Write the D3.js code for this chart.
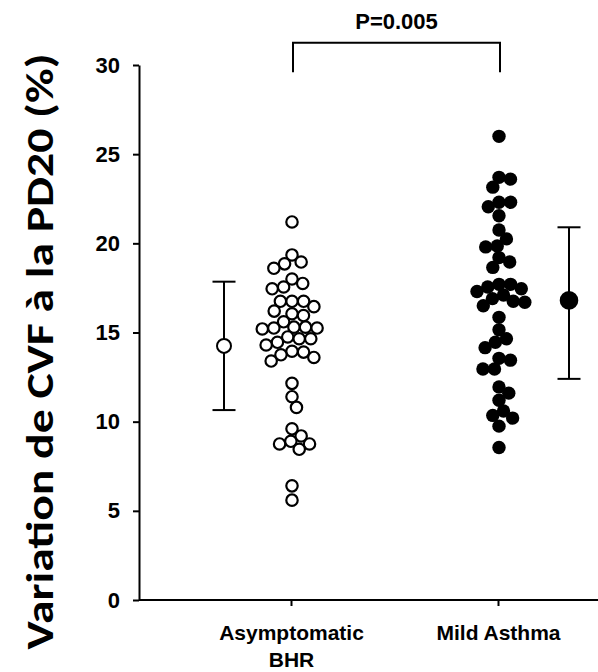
<!DOCTYPE html>
<html>
<head>
<meta charset="utf-8">
<script src="https://cdn.jsdelivr.net/npm/d3@7"></script>
<style>
  body { margin: 0; background: #fff; }
  svg { display: block; }
</style>
</head>
<body>
<div id="chart"></div>
<script>
// values
const groups = ["Asymptomatic BHR", "Mild Asthma"]
const groupLines = [["Asymptomatic", "BHR"], ["Mild Asthma"]]
const asymValues = [21.2, 19.35, 18.85, 18.95, 18.6, 18.0, 17.75, 17.55, 17.45,
    16.75, 16.75, 16.75, 16.45, 16.2, 15.95, 16.05, 15.6, 15.25, 15.25, 15.3,
    15.3, 15.2, 14.65, 14.65, 14.75, 14.45, 14.3, 13.9, 13.75, 13.95, 13.6,
    13.4, 12.15, 11.4, 10.8, 9.6, 9.2, 8.9, 8.75, 8.75, 8.45, 6.4, 5.6]
const mildValues = [26.0, 23.6, 23.7, 23.15, 22.3, 22.3, 22.05, 21.55, 20.75,
    20.25, 19.8, 19.85, 19.2, 18.95, 18.65, 17.7, 17.7, 17.55, 17.45, 17.3,
    17.1, 16.9, 16.7, 16.5, 16.75, 15.85, 15.15, 14.65, 14.45, 14.15, 13.55,
    13.45, 12.95, 12.95, 11.95, 11.6, 11.2, 10.2, 10.35, 10.6, 9.75, 8.55]
const groupMean = [14.25, 16.8]
const groupLow = [10.65, 12.4]
const groupHigh = [17.85, 20.9]
const yTicks = [0, 5, 10, 15, 20, 25, 30]
const pLabel = "P=0.005"
const yTitle = "Variation de CVF à la PD20 (%)"

const W = 598, H = 672
const margin = {top: 65, right: 0, bottom: 72, left: 139}
const axisFont = "'Liberation Sans', Arial, sans-serif"

const svg = d3.select("#chart").append("svg")
    .attr("width", W)
    .attr("height", H)

const y = d3.scaleLinear()
    .domain([0, 30])
    .range([H - margin.bottom, margin.top])

const x = d3.scalePoint()
    .domain(groups)
    .range([291, 498])

// y axis
const yAxis = svg.append("g")
    .attr("transform", "translate(" + margin.left + ",0)")
    .call(d3.axisLeft(y)
        .tickValues(yTicks)
        .tickSizeInner(6)
        .tickSizeOuter(0)
        .tickPadding(13))
yAxis.select(".domain").attr("stroke-width", 2)
yAxis.selectAll(".tick line").attr("stroke-width", 2)
yAxis.selectAll(".tick text")
    .style("font-family", axisFont)
    .style("font-weight", "bold")
    .style("font-size", "22px")
    .attr("fill", "#000")

// x axis
svg.append("line")
    .attr("x1", margin.left)
    .attr("x2", W - margin.right)
    .attr("y1", y(0))
    .attr("y2", y(0))
    .attr("stroke", "#000")
    .attr("stroke-width", 2)

const xAxis = svg.append("g")
    .attr("transform", "translate(0," + y(0) + ")")
    .call(d3.axisBottom(x).tickSizeInner(6).tickSizeOuter(0).tickPadding(10))
xAxis.select(".domain").remove()
xAxis.selectAll(".tick line").attr("stroke-width", 2)
xAxis.selectAll(".tick text").remove()
xAxis.selectAll(".tick").each(function (d, i) {
    const t = d3.select(this).append("text")
        .attr("fill", "#000")
        .attr("text-anchor", "middle")
        .style("font-family", axisFont)
        .style("font-weight", "bold")
        .style("font-size", "21px")
    groupLines[i].forEach((line, k) => {
        t.append("tspan").attr("x", 0).attr("y", 40 + k * 27).text(line)
    })
})

// y title
svg.append("text")
    .attr("transform", "translate(53," + (y(15) + 19) + ") rotate(-90)")
    .attr("text-anchor", "middle")
    .attr("textLength", 596)
    .attr("lengthAdjust", "spacingAndGlyphs")
    .style("font-family", "Carlito, Calibri, Lato, sans-serif")
    .style("font-weight", "bold")
    .style("font-size", "39px")
    .text(yTitle)

// simple beeswarm: each point takes the free x offset closest to the group centre
function swarm(values, cx, d) {
    const order = values.map((v, i) => i).sort((a, b) => values[b] - values[a])
    const placed = []
    order.forEach(i => {
        const py = y(values[i])
        const cands = [0]
        placed.forEach(p => {
            const dy = py - p.y
            if (Math.abs(dy) < d) {
                const dx = Math.sqrt(d * d - dy * dy)
                cands.push(p.dx + dx, p.dx - dx)
            }
        })
        cands.sort((a, b) => Math.abs(a) - Math.abs(b))
        const ok = cands.find(c => placed.every(p =>
            (p.dx - c) ** 2 + (p.y - py) ** 2 >= d * d - 0.01))
        placed.push({dx: ok, y: py, v: values[i]})
    })
    return placed.map(p => ({x: cx + p.dx, y: p.y}))
}

const asymPts = swarm(asymValues, x(groups[0]) + 1, 11.6)
const mildPts = swarm(mildValues, x(groups[1]) + 1, 11.6)

svg.append("g").selectAll("circle")
    .data(asymPts)
    .join("circle")
    .attr("cx", d => d.x)
    .attr("cy", d => d.y)
    .attr("r", 5.7)
    .attr("fill", "#fff")
    .attr("stroke", "#000")
    .attr("stroke-width", 2.2)

svg.append("g").selectAll("circle")
    .data(mildPts)
    .join("circle")
    .attr("cx", d => d.x)
    .attr("cy", d => d.y)
    .attr("r", 6.7)
    .attr("fill", "#000")

// mean +/- SD beside each group
const side = [-67, 71]
const capW = 11.5
groups.forEach((g, i) => {
    const cx = x(g) + side[i]
    const sg = svg.append("g")
    sg.append("line")
        .attr("x1", cx).attr("x2", cx)
        .attr("y1", y(groupLow[i])).attr("y2", y(groupHigh[i]))
        .attr("stroke", "#000").attr("stroke-width", 2)
    ;[groupLow[i], groupHigh[i]].forEach(v => {
        sg.append("line")
            .attr("x1", cx - capW).attr("x2", cx + capW)
            .attr("y1", y(v)).attr("y2", y(v))
            .attr("stroke", "#000").attr("stroke-width", 2)
    })
    sg.append("circle")
        .attr("cx", cx)
        .attr("cy", y(groupMean[i]))
        .attr("r", i === 0 ? 7 : 8.3)
        .attr("fill", i === 0 ? "#fff" : "#000")
        .attr("stroke", "#000")
        .attr("stroke-width", 2)
})

// significance bracket
const bTop = y(31.25), bBottom = y(29.6)
const x1 = x(groups[0]) + 2, x2 = x(groups[1]) + 2
svg.append("path")
    .attr("d", "M" + x1 + "," + bBottom + "V" + bTop + "H" + x2 + "V" + bBottom)
    .attr("fill", "none")
    .attr("stroke", "#000")
    .attr("stroke-width", 2)

svg.append("text")
    .attr("x", (x1 + x2) / 2)
    .attr("y", bTop - 14)
    .attr("text-anchor", "middle")
    .style("font-family", axisFont)
    .style("font-weight", "bold")
    .style("font-size", "22px")
    .text(pLabel)
</script>
</body>
</html>
